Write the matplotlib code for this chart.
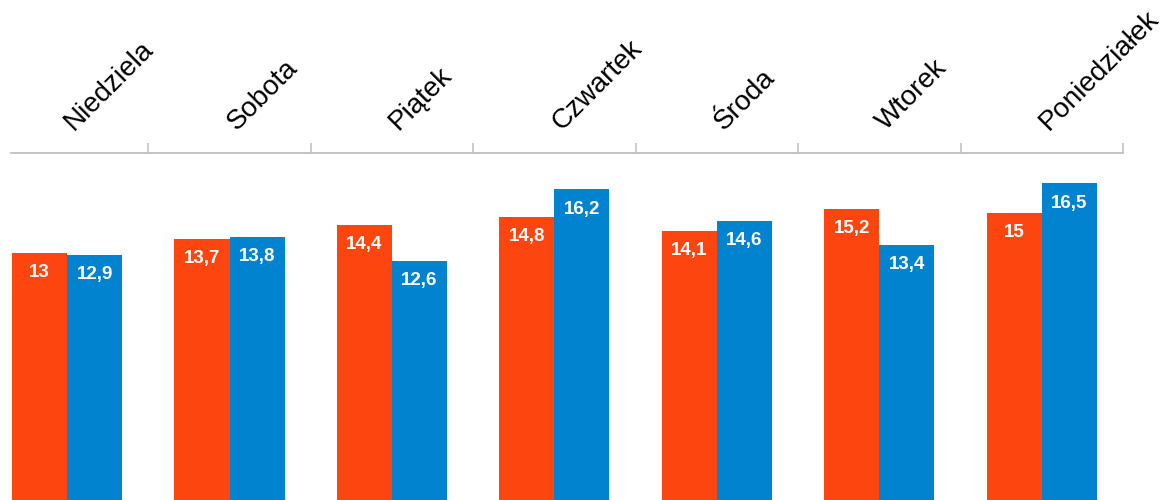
import numpy as np
import matplotlib
matplotlib.use('Agg')
import matplotlib.pyplot as plt

plt.rcParams['font.family'] = ['Liberation Sans', 'DejaVu Sans']

days = ['Niedziela', 'Sobota', 'Piątek', 'Czwartek', 'Środa', 'Wtorek', 'Poniedziałek']
orange_vals = [13, 13.7, 14.4, 14.8, 14.1, 15.2, 15]
blue_vals = [12.9, 13.8, 12.6, 16.2, 14.6, 13.4, 16.5]

orange = '#FD4510'
blue = '#0283D0'
grid_grey = '#BFBFBF'


def fmt(v):
    # polish decimal comma, drop .0
    if float(v).is_integer():
        return '%d' % v
    return ('%.1f' % v).replace('.', ',')


fig = plt.figure(figsize=(11.66, 5.0), dpi=100)
# axes bottom sits a bit below the figure edge, like the original (bars are cut)
ax = fig.add_axes([11 / 1166, -12 / 500, 1112 / 1166, 359 / 500])

x = np.arange(len(days))
w = 0.339
b1 = ax.bar(x - w / 2, orange_vals, width=w, color=orange, linewidth=0)
b2 = ax.bar(x + w / 2, blue_vals, width=w, color=blue, linewidth=0)

for bars, vals in ((b1, orange_vals), (b2, blue_vals)):
    for rect, v in zip(bars, vals):
        ax.annotate(fmt(v), xy=(rect.get_x() + rect.get_width() / 2, v),
                    xytext=(0, -14.5), textcoords='offset points',
                    ha='center', va='center', color='white',
                    fontsize=13.5, fontweight='bold')

for i, d in enumerate(days):
    ax.annotate(d, xy=(i, 1), xycoords=('data', 'axes fraction'),
                xytext=(5, 16), textcoords='offset points',
                ha='left', va='baseline', rotation=45, rotation_mode='anchor',
                fontsize=20, color='black', annotation_clip=False)

ax.set_xlim(-0.345, 6.5)
ax.set_ylim(0, 18)

for s in ['left', 'right', 'bottom']:
    ax.spines[s].set_visible(False)
ax.spines['top'].set_color(grid_grey)
ax.spines['top'].set_linewidth(1.3)

ax.xaxis.tick_top()
ax.set_xticks(np.arange(0.5, len(days), 1.0))
ax.set_xticklabels([])
ax.tick_params(axis='x', direction='out', length=7, width=1.1, color=grid_grey)
ax.set_yticks([])

fig.savefig('out.png', dpi=100)
